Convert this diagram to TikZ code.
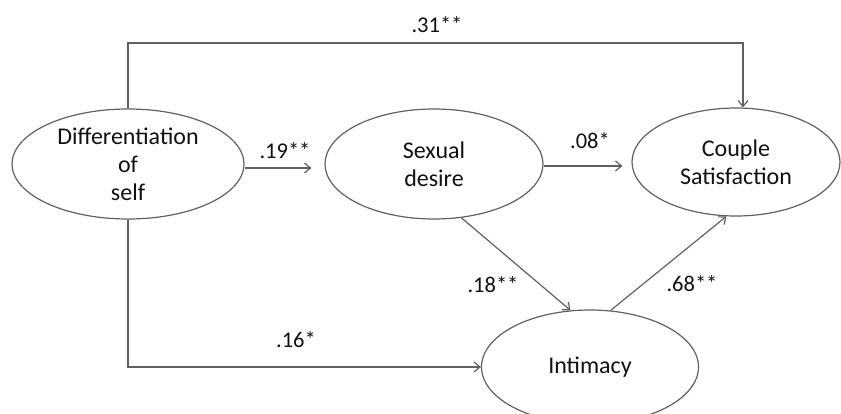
\documentclass[tikz,border=0pt]{standalone}
\usepackage{fontspec}
\setmainfont{Carlito}
\usetikzlibrary{shapes.geometric,arrows.meta,calc}
\definecolor{edgegray}{HTML}{606060}
\definecolor{inkdark}{HTML}{111111}
\begin{document}
\begin{tikzpicture}[x=1pt,y=-1pt,
  latent/.style={ellipse,draw=edgegray,line width=1.2pt,inner sep=0pt,
    align=center,text=inkdark,font=\fontsize{24}{28}\selectfont},
  coef/.style={text=inkdark,font=\fontsize{22.5}{24}\selectfont,inner sep=0pt},
  path/.style={draw=edgegray,line width=1.2pt,
    -{Straight Barb[length=6pt,width=10pt,line width=1.2pt]}}]
\useasboundingbox (0,0) rectangle (841,414);
\begin{scope}
\clip (0,0) rectangle (841,414);

% latent variables
\node[latent,minimum width=232pt,minimum height=110pt] (d) at (128,164)
  {Differentiation\\of\\self};
\node[latent,minimum width=218pt,minimum height=110pt] (s) at (434,164)
  {Sexual\\desire};
\node[latent,minimum width=208pt,minimum height=108pt] (c) at (736,162)
  {Couple\\Satisfaction};
\node[latent,minimum width=217pt,minimum height=114pt] (i) at (590,367)
  {Intimacy};

% direct path over the top
\coordinate (tr) at (743,43);
\draw[path] (d.north) |- (tr) -- (tr |- c.north);

% direct path along the bottom
\draw[path] (d.south) |- (i.west);

% horizontal paths
\draw[path] ($(d.east)+(0,4)$) -- ($(s.west)+(-13,4)$);
\draw[path] ($(s.east)+(0,2)$) -- ($(c.west)+(-9,4)$);

% mediated paths through intimacy
\draw[path] (s.-63) -- (i.109);
\draw[path] (i.70) -- (c.-100);

% path coefficients
\node[coef] (k1) at (437,25) {.31**};
\node[coef] (k2) at (285,151) {.19**};
\node[coef] (k3) at (590,141) {.08*};
\node[coef] (k4) at (296,340) {.16*};
\node[coef] (k5) at (493,285) {.18**};
\node[coef] (k6) at (692,284) {.68**};
\end{scope}
\end{tikzpicture}
\end{document}
